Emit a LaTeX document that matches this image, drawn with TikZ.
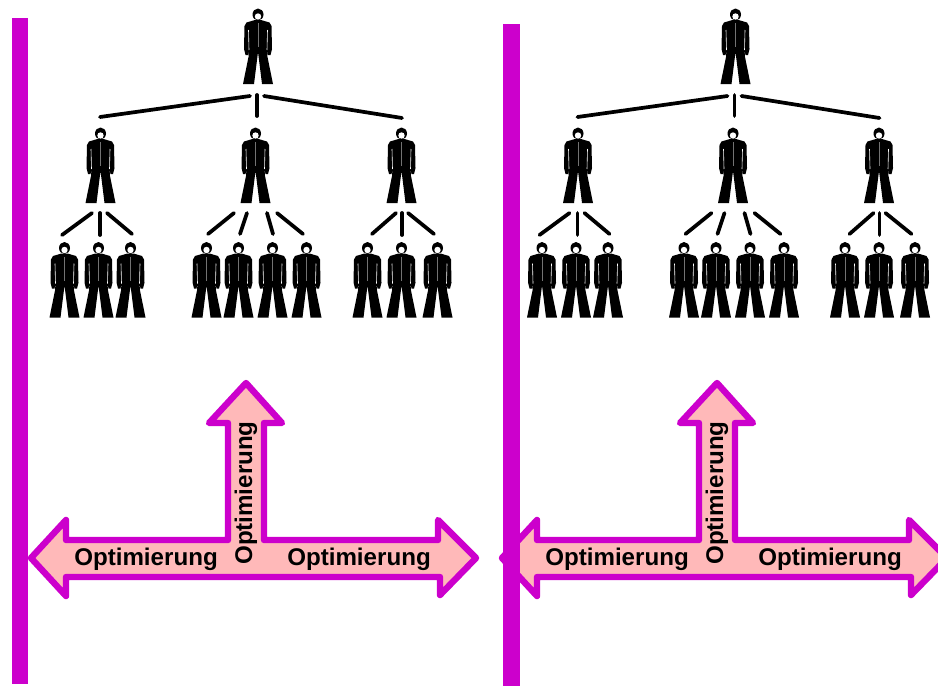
\documentclass[tikz,border=0pt]{standalone}
\usepackage{fontspec}
\setmainfont{Liberation Sans}
\usetikzlibrary{positioning}
\definecolor{barviolet}{HTML}{CC00CC}
\definecolor{arrowrose}{HTML}{FFB9B9}
\tikzset{
	pics/person/.style={code={
		\fill[black] (-3,11) -- (-11.5,13.5) -- (-13.5,17) -- (-14,40) -- (-12.5,46) -- (-10,46) -- (-9,41)
			-- (-9.5,48) -- (-15,75) -- (-4,75) -- (0,43) -- (4,75) -- (15,75) -- (9.5,48)
			-- (9,41) -- (10,46) -- (12.5,46) -- (14,40) -- (13.5,17) -- (11.5,13.5) -- (3,11) -- cycle;
		\fill[black] (0,5.5) ellipse [x radius=5.5, y radius=6];
		\fill[white] (0,7.5) ellipse [x radius=3.2, y radius=3.2];
		\draw[white, line width=0.45pt] (-9.5,21) -- (-9,41) (9.5,21) -- (9,41);
		\draw[white!45!black, line width=0.25pt] (0,14) -- (0,38);
	}},
	twig/.style={line width=2.8pt, line cap=round},
	bar/.style={fill=barviolet},
	bigarrow/.style={draw=barviolet, fill=arrowrose, line width=4.8pt, line join=round},
	optlabel/.style={font=\fontsize{18.1}{20}\selectfont\bfseries, inner sep=0pt}
}
\begin{document}
\begin{tikzpicture}[x=0.75pt, y=-0.75pt]
	\useasboundingbox (0,0) rectangle (938,686);
	\foreach \dx in {0, 477.5}{
		\begin{scope}[xshift=\dx*0.75pt]
			\pic (boss) at (258,9) {person};
			\foreach \px in {100.5,255.5,401.5}
				\pic (lead\px) at (\px,128) {person};
			\foreach \px in {64.5,98.5,130.5,206.5,238.5,272.5,306.5,367.5,401.5,437.5}
				\pic (staff\px) at (\px,242.5) {person};
			\foreach \xa/\ya/\xb/\yb in {250/96/100/117, 257/95/257/116, 264/96/402/118,
				92/213/62/235, 100/213/100/235, 107/213/132/234,
				234/213/208/234, 247/213/240/234, 267/213/273/234, 277/213/303/234,
				396/213/372/234, 402/213/402/235, 408/213/434/234}{
				\coordinate (from) at (\xa,\ya);
				\coordinate (to) at (\xb,\yb);
				\draw[twig] (from) -- (to);
			}
		\end{scope}
	}
	\foreach \dx/\nm in {0/left, 471/right}{
		\begin{scope}[xshift=\dx*0.75pt]
			\draw[bigarrow] (31,558) -- (66,520) -- (66,540) -- (228,540) -- (228,423) -- (209,423) -- (246,383)
				-- (282,423) -- (264,423) -- (264,540) -- (438,540) -- (438,520) -- (476,558) -- (440,595)
				-- (440,577) -- (66,577) -- (66,596) -- cycle;
			\node[optlabel] (opt\nm W) at (146,559) {Optimierung};
			\node[optlabel] (opt\nm E) at (359,559) {Optimierung};
			\node[optlabel, rotate=90] (opt\nm N) at (246,493) {Optimierung};
		\end{scope}
	}
	\fill[bar] (12,18) rectangle (28,684);
	\fill[bar] (503,24) rectangle (520,686);
\end{tikzpicture}
\end{document}
